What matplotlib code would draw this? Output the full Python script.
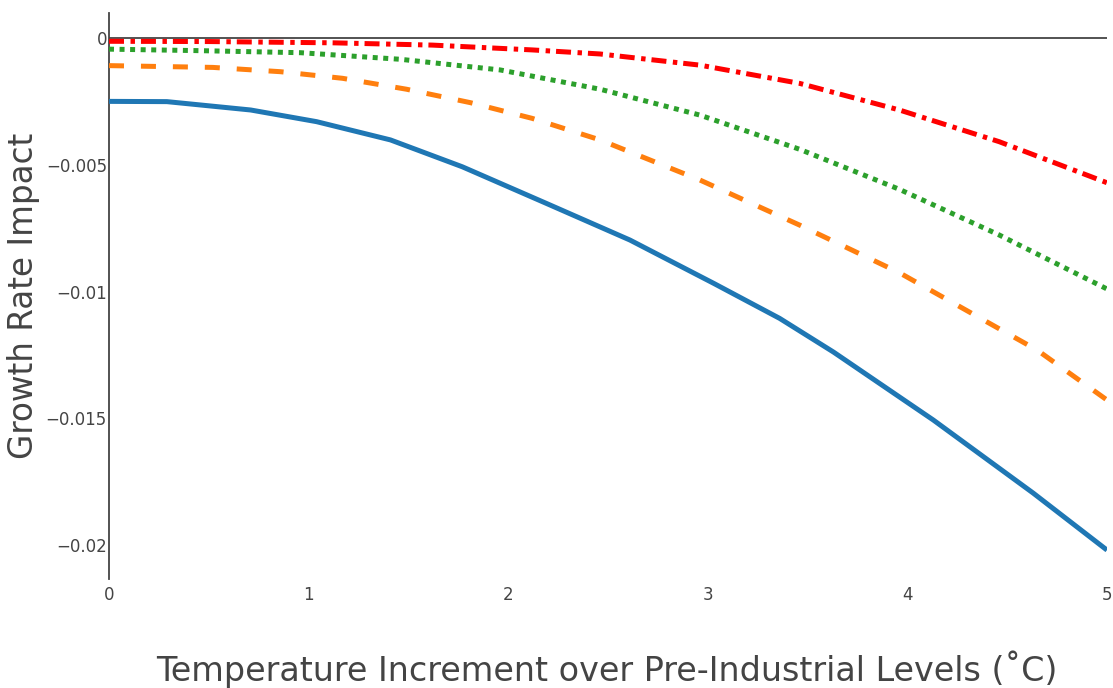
import matplotlib
matplotlib.use("Agg")
import matplotlib.pyplot as plt
from matplotlib.ticker import FuncFormatter, FixedLocator

# Growth-rate impact vs. warming, four scenarios
x_blue = [0.00, 0.29, 0.71, 1.04, 1.41, 1.77, 2.19, 2.61, 3.03, 3.36, 3.63, 4.13, 4.63, 5.00]
y_blue = [-0.00250, -0.00251, -0.00284, -0.00330, -0.00402, -0.00508, -0.00652,
          -0.00797, -0.00968, -0.01106, -0.01239, -0.01507, -0.01795, -0.02020]

x_orange = [0.00, 0.52, 0.86, 1.17, 1.49, 1.81, 2.12, 2.46, 2.96, 3.46, 3.96, 4.65, 5.00]
y_orange = [-0.00109, -0.00116, -0.00133, -0.00159, -0.00202, -0.00255, -0.00317,
            -0.00402, -0.00560, -0.00738, -0.00926, -0.01231, -0.01428]

x_green = [0.00, 0.46, 0.96, 1.46, 1.96, 2.46, 2.96, 3.46, 3.96, 4.46, 5.00]
y_green = [-0.00044, -0.00050, -0.00058, -0.00084, -0.00126, -0.00202, -0.00304,
           -0.00439, -0.00597, -0.00777, -0.00990]

x_red = [0.00, 0.50, 1.12, 1.62, 2.12, 2.46, 2.96, 3.46, 3.96, 4.46, 5.00]
y_red = [-0.00013, -0.00014, -0.00019, -0.00028, -0.00047, -0.00063, -0.00107,
         -0.00179, -0.00284, -0.00409, -0.00571]

x_ticks = [0, 1, 2, 3, 4, 5]
y_ticks = [0, -0.005, -0.01, -0.015, -0.02]

x_title = "Temperature Increment over Pre-Industrial Levels (˚C)"
y_title = "Growth Rate Impact"

plt.rcParams["font.family"] = ["DejaVu Sans"]
plt.rcParams["lines.scale_dashes"] = False

W, H = 1113, 688
fig = plt.figure(figsize=(W / 100, H / 100), dpi=100)
ax = fig.add_axes([109 / W, 1 - 579 / H, 998 / W, 566 / H])

axis_color = "#444444"
lw = 3.6

ax.axhline(0, color=axis_color, lw=1.3, zorder=1)

ax.plot(x_blue, y_blue, color="#1f77b4", lw=lw, solid_capstyle="butt", zorder=3)
ax.plot(x_orange, y_orange, color="#ff7f0e", lw=lw, dash_capstyle="butt",
        linestyle=(0, (10.8, 12.2)), zorder=3)
ax.plot(x_green, y_green, color="#2ca02c", lw=lw, dash_capstyle="butt",
        linestyle=(0, (3.6, 4.0)), zorder=3)
ax.plot(x_red, y_red, color="#ff0000", lw=lw, dash_capstyle="butt",
        linestyle=(0, (10.8, 4.7, 3.2, 4.3)), zorder=3)

ax.set_xlim(0, 5)
ax.set_ylim(-0.02134, 0.000986)

ax.xaxis.set_major_locator(FixedLocator(x_ticks))
ax.yaxis.set_major_locator(FixedLocator(y_ticks))
fmt = FuncFormatter(lambda v, p: ("%g" % v).replace("-", "\u2212"))
ax.xaxis.set_major_formatter(fmt)
ax.yaxis.set_major_formatter(fmt)

for side in ("top", "right", "bottom"):
    ax.spines[side].set_visible(False)
ax.spines["left"].set_color(axis_color)
ax.spines["left"].set_linewidth(1.3)

ax.tick_params(axis="both", length=0, colors=axis_color, labelsize=12)
ax.tick_params(axis="x", pad=5)
ax.tick_params(axis="y", pad=1.5)

fig.text(607 / W, 1 - 669 / H, x_title, ha="center", va="center",
         fontsize=24, color=axis_color)
fig.text(24 / W, 1 - 296 / H, y_title, ha="center", va="center",
         rotation=90, fontsize=23.5, color=axis_color)

fig.savefig("out.png", dpi=100, facecolor="white")
